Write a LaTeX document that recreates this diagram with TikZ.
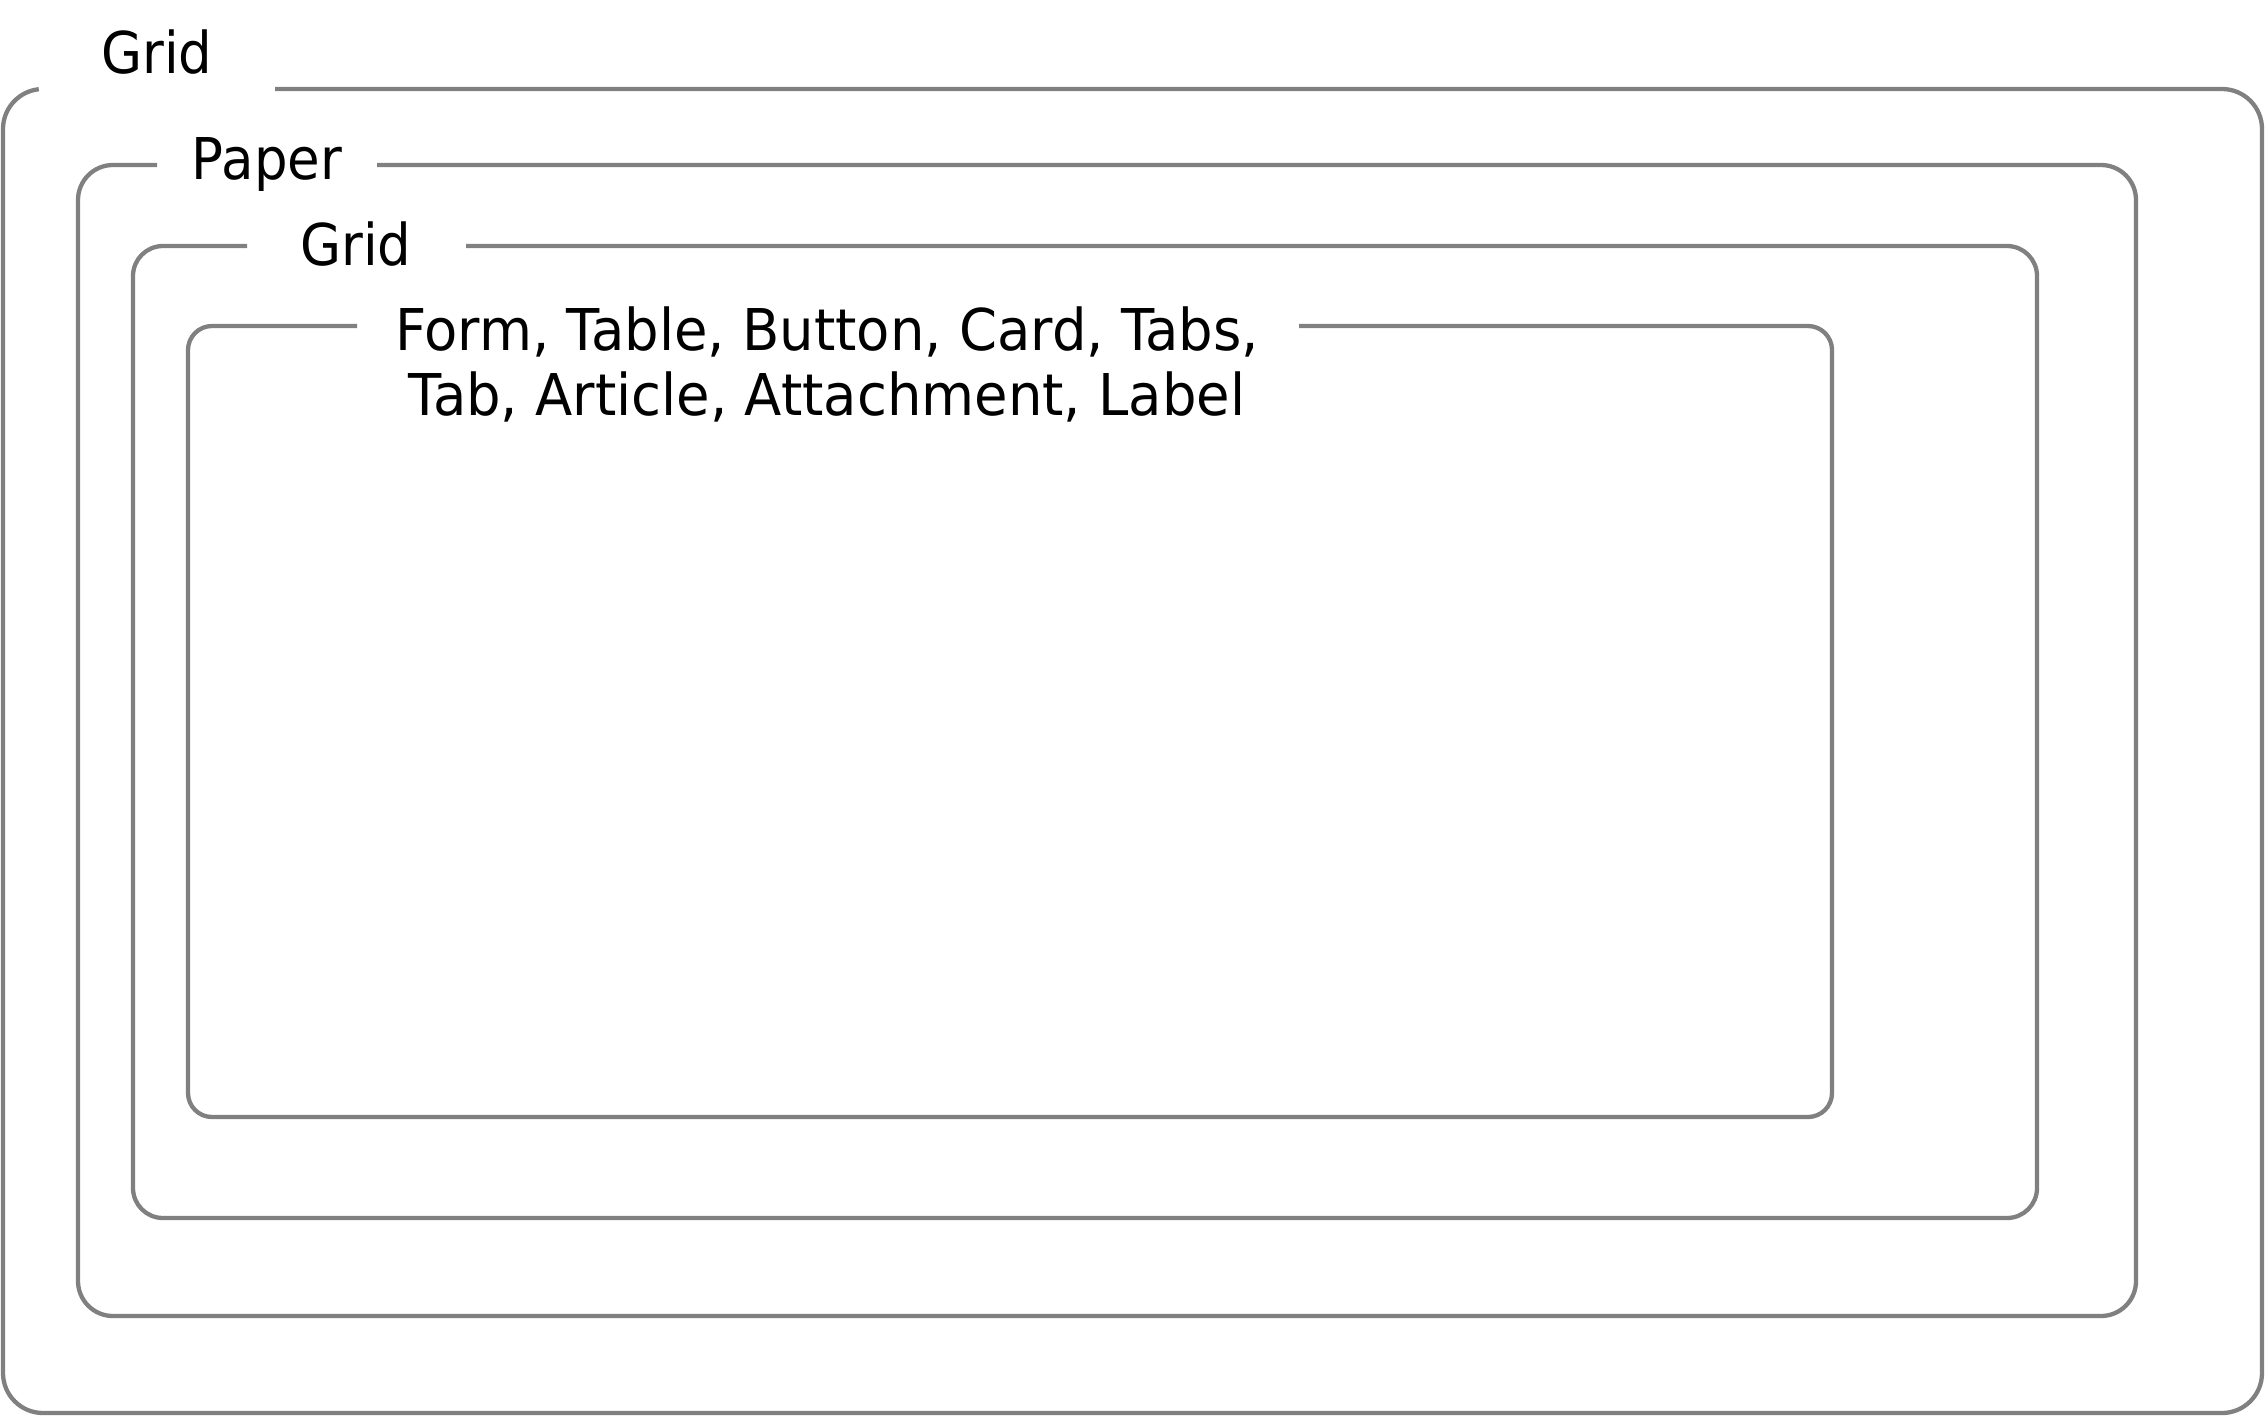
\documentclass[tikz,border=0pt]{standalone}
\usepackage{fontspec}
\setmainfont{DejaVu Sans}[FakeStretch=0.92]
\newfontfamily\listfont{DejaVu Sans}[FakeStretch=0.945]
\begin{document}
\begin{tikzpicture}[x=1pt,y=1pt,
  frame/.style={draw=gray,line width=4.3pt},
  lbl/.style={anchor=base,inner sep=0pt,align=center,font=\fontsize{57.6}{65}\selectfont}]
\useasboundingbox (0,0) rectangle (2265,-1416);
% outer Grid
\draw[frame] (275,-89) -- (2222,-89) arc[start angle=90,end angle=0,radius=40pt]
  -- (2262,-1373) arc[start angle=0,end angle=-90,radius=40pt]
  -- (43,-1413) arc[start angle=270,end angle=180,radius=40pt]
  -- (3,-129) arc[start angle=180,end angle=96,radius=40pt];
% Paper
\draw[frame] (377,-165) -- (2101,-165) arc[start angle=90,end angle=0,radius=35pt]
  -- (2136,-1281) arc[start angle=0,end angle=-90,radius=35pt]
  -- (113,-1316) arc[start angle=270,end angle=180,radius=35pt]
  -- (78,-200) arc[start angle=180,end angle=90,radius=35pt] -- (157,-165);
% inner Grid
\draw[frame] (466,-246) -- (2007,-246) arc[start angle=90,end angle=0,radius=30pt]
  -- (2037,-1188) arc[start angle=0,end angle=-90,radius=30pt]
  -- (163,-1218) arc[start angle=270,end angle=180,radius=30pt]
  -- (133,-276) arc[start angle=180,end angle=90,radius=30pt] -- (247,-246);
% components
\draw[frame] (1299,-326) -- (1808,-326) arc[start angle=90,end angle=0,radius=24pt]
  -- (1832,-1093) arc[start angle=0,end angle=-90,radius=24pt]
  -- (212,-1117) arc[start angle=270,end angle=180,radius=24pt]
  -- (188,-350) arc[start angle=180,end angle=90,radius=24pt] -- (357,-326);
\node[lbl] (gridA) at (157,-73) {Grid};
\node[lbl] (paper) at (267,-179) {Paper};
\node[lbl] (gridB) at (356,-265) {Grid};
\node[lbl,font=\listfont\fontsize{57.6}{65}\selectfont] (comps) at (827,-415) {Form, Table, Button, Card, Tabs,\\Tab, Article, Attachment, Label};
\end{tikzpicture}
\end{document}
